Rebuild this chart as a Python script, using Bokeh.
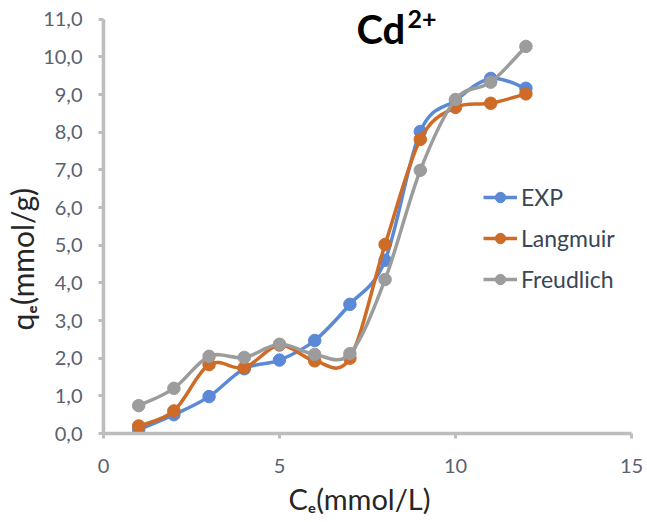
import numpy as np
from bokeh.plotting import figure
from bokeh.models import Label, Legend, LegendItem, FixedTicker, Range1d, Title
from bokeh.embed import file_html
from bokeh.resources import INLINE

# ---------------- data ----------------
ce = [1, 2, 3, 4, 5, 6, 7, 8, 9, 10, 11, 12]
exp_q = [0.10, 0.50, 0.98, 1.72, 1.95, 2.47, 3.43, 4.60, 8.02, 8.85, 9.43, 9.17]
langmuir_q = [0.20, 0.60, 1.83, 1.75, 2.35, 1.93, 2.00, 5.02, 7.81, 8.66, 8.77, 9.02]
freundlich_q = [0.74, 1.20, 2.05, 2.02, 2.37, 2.10, 2.12, 4.09, 6.99, 8.87, 9.33, 10.28]
series_names = ["EXP", "Langmuir", "Freudlich"]
x_ticks = [0, 5, 10, 15]
y_ticks = [0, 1, 2, 3, 4, 5, 6, 7, 8, 9, 10, 11]
y_tick_labels = ["0,0", "1,0", "2,0", "3,0", "4,0", "5,0", "6,0", "7,0",
                 "8,0", "9,0", "10,0", "11,0"]
x_title = "C\u2091(mmol/L)"
y_title = "q\u2091(mmol/g)"

colors = ["#5B89D6", "#CE6B26", "#9C9C9C"]
FONT = "Lato"

p = figure(width=647, height=522, output_backend="svg", toolbar_location=None,
           x_range=Range1d(0, 15), y_range=Range1d(0, 11.5),
           min_border_left=103, min_border_right=16, min_border_top=0,
           min_border_bottom=89)
p.outline_line_color = None
p.xgrid.grid_line_color = None
p.ygrid.grid_line_color = None
p.background_fill_color = "white"
p.border_fill_color = "white"

for ax in (p.xaxis[0], p.yaxis[0]):
    ax.axis_line_color = "#BDBDBD"
    ax.axis_line_width = 3.5
    ax.major_tick_line_color = "#BDBDBD"
    ax.major_tick_line_width = 3
    ax.major_tick_out = 5
    ax.major_tick_in = 0
    ax.minor_tick_line_color = None
    ax.major_label_text_font = FONT
    ax.major_label_text_font_size = "20px"
    ax.major_label_text_color = "#5A6270"
    ax.axis_label = None

p.xaxis[0].ticker = FixedTicker(ticks=x_ticks)
p.xaxis[0].major_label_standoff = 20
p.yaxis[0].ticker = FixedTicker(ticks=y_ticks)
p.yaxis[0].bounds = (0, 11)
p.yaxis[0].major_label_overrides = {t: l for t, l in zip(y_ticks, y_tick_labels)}
p.yaxis[0].major_label_standoff = 16


def smooth_segments(xs, ys):
    x = np.asarray(xs, float)
    y = np.asarray(ys, float)
    xp = np.concatenate([[x[0]], x, [x[-1]]])
    yp = np.concatenate([[y[0]], y, [y[-1]]])
    n = len(x)
    cx0 = xp[1:n] + (xp[2:n + 1] - xp[0:n - 1]) / 6.0
    cy0 = yp[1:n] + (yp[2:n + 1] - yp[0:n - 1]) / 6.0
    cx1 = xp[2:n + 1] - (xp[3:n + 2] - xp[1:n]) / 6.0
    cy1 = yp[2:n + 1] - (yp[3:n + 2] - yp[1:n]) / 6.0
    return dict(x0=x[:-1], y0=y[:-1], x1=x[1:], y1=y[1:],
                cx0=cx0, cy0=cy0, cx1=cx1, cy1=cy1)


items = []
for name, ys, col in zip(series_names, [exp_q, langmuir_q, freundlich_q], colors):
    seg = smooth_segments(ce, ys)
    p.bezier(line_color=col, line_width=3.5, line_cap="round", **seg)
    sc = p.scatter(ce, ys, size=12.5, fill_color=col, line_color=col)
    lg = p.line(x=[np.nan], y=[np.nan], line_color=col, line_width=3.5)
    items.append(LegendItem(label=name, renderers=[lg, sc]))

legend = Legend(items=items, location=(380, 140), padding=0, margin=0,
                border_line_color=None, background_fill_alpha=0,
                glyph_width=34, glyph_height=26, label_height=26,
                spacing=13, label_standoff=4,
                label_text_font=FONT, label_text_font_size="23px",
                label_text_color="#3A4556")
p.add_layout(legend, "center")

# title Cd2+
p.add_layout(Label(x=253, y=405, x_units="screen", y_units="screen", text="Cd",
                   text_font=FONT, text_font_style="bold", text_font_size="40px",
                   text_color="black", text_baseline="alphabetic", text_align="left"))
p.add_layout(Label(x=304, y=424, x_units="screen", y_units="screen", text="2+",
                   text_font=FONT, text_font_style="bold", text_font_size="25px",
                   text_color="black", text_baseline="top", text_align="left"))

# axis titles
p.add_layout(Title(text=x_title, align="left", offset=185, standoff=6,
                   text_font=FONT, text_font_size="29px", text_font_style="normal",
                   text_color="#262626"), "below")
p.add_layout(Title(text=y_title, align="left", offset=103, standoff=1,
                   text_font=FONT, text_font_size="30px", text_font_style="normal",
                   text_color="#262626"), "left")

open("out.html", "w").write(file_html(p, INLINE))
